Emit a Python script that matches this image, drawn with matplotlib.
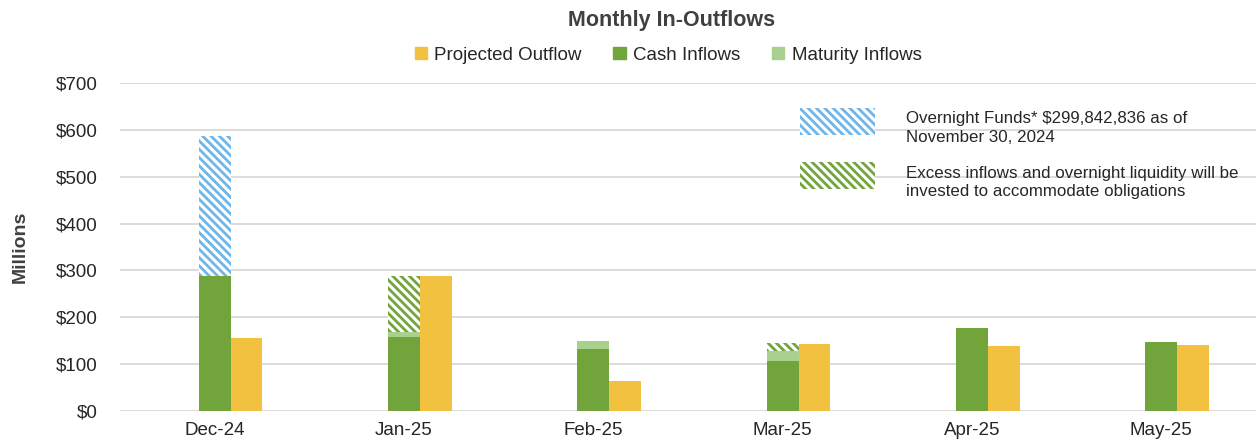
import numpy as np
import matplotlib.pyplot as plt
from matplotlib.patches import Patch, Rectangle

plt.rcParams["font.family"] = ["Liberation Sans", "DejaVu Sans"]
plt.rcParams["hatch.linewidth"] = 2.0

months = ["Dec-24", "Jan-25", "Feb-25", "Mar-25", "Apr-25", "May-25"]
cash_inflows = [288, 158, 132, 107, 177, 147]
maturity_inflows = [0, 11, 17, 21, 0, 0]
overnight_funds = [300, 0, 0, 0, 0, 0]
excess_inflows = [0, 119, 0, 17, 0, 0]
projected_outflow = [156, 288, 64, 143, 139, 141]
notes = ["Overnight Funds* $299,842,836 as of\nNovember 30, 2024",
         "Excess inflows and overnight liquidity will be\ninvested to accommodate obligations"]

c_yellow = "#F2C140"
c_green = "#72A43C"
c_light = "#A9D18E"
c_blue = "#6DB6EA"
grid_c = "#D9D9D9"
hatch = "\\\\\\\\"

fig = plt.figure(figsize=(12.56, 4.48), dpi=100)
ax = fig.add_axes([0.0955, 0.0826, 0.9045, 0.732])

x = np.arange(len(months))
w = 0.168
cash = np.array(cash_inflows)
mat = np.array(maturity_inflows)
over = np.array(overnight_funds)
exc = np.array(excess_inflows)

ax.bar(x, cash, w, color=c_green, zorder=3)
ax.bar(x, mat, w, bottom=cash, color=c_light, zorder=3)
ax.bar(x, over, w, bottom=cash + mat, color="white", edgecolor=c_blue,
       hatch=hatch, linewidth=0, zorder=3)
ax.bar(x, exc, w, bottom=cash + mat + over, color="white", edgecolor=c_green,
       hatch=hatch, linewidth=0, zorder=3)
ax.bar(x + w, projected_outflow, w, color=c_yellow, zorder=3)

ax.set_xlim(-0.5, 5.5)
ax.set_ylim(0, 700)
ax.set_yticks(range(0, 701, 100))
ax.set_yticklabels([f"${v}" for v in range(0, 701, 100)], fontsize=13.5, color="#262626")
ax.set_xticks(x)
ax.set_xticklabels(months, fontsize=13.5, color="#262626")
ax.tick_params(length=0)
ax.tick_params(axis="y", pad=16)
ax.tick_params(axis="x", pad=8)
ax.grid(axis="y", color=grid_c, lw=1.3, zorder=0)
for s in ax.spines.values():
    s.set_visible(False)
ax.set_ylabel("Millions", fontsize=14, fontweight="bold", color="#404040")
ax.yaxis.set_label_coords(-0.08, 0.5)

fig.text(0.535, 0.955, "Monthly In-Outflows", ha="center", va="center",
         fontsize=15.5, fontweight="bold", color="#404040")

top_handles = [Patch(color=c_yellow, label="Projected Outflow"),
               Patch(color=c_green, label="Cash Inflows"),
               Patch(color=c_light, label="Maturity Inflows")]
fig.legend(handles=top_handles, loc="center", bbox_to_anchor=(0.532, 0.877), ncol=3,
           frameon=False, fontsize=13.5, handlelength=0.65, handleheight=0.65,
           handletextpad=0.4, columnspacing=1.7, labelcolor="#262626")

# note key, drawn by hand so the text can sit a bit below its swatch
key_y = [0.8415, 0.677]
text_y = [0.863, 0.697]
for col, ky, ty, txt in zip([c_blue, c_green], key_y, text_y, notes):
    ax.add_patch(Rectangle((0.5986, ky), 0.066, 0.081, transform=ax.transAxes,
                           facecolor="white", edgecolor=col, hatch=hatch,
                           linewidth=0, zorder=4, clip_on=False))
    ax.text(0.692, ty, txt, transform=ax.transAxes, ha="left", va="center",
            fontsize=12.2, linespacing=1.32, color="#262626", zorder=4)

fig.savefig("out.png", dpi=100)
